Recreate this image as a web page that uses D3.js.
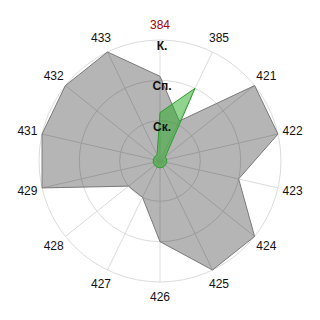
<!DOCTYPE html>
<html><head><meta charset="utf-8">
<script src="https://cdn.jsdelivr.net/npm/d3@7"></script>
<style>html,body{margin:0;padding:0;background:#fff;}svg{display:block;}</style>
</head><body>
<svg id="chart" width="320" height="320"></svg>
<script>
const axes = ["384","385","421","422","423","424","425","426","427","428","429","431","432","433"];
const grayValues = [2.1, 1.1, 3.0, 3.0, 2.0, 3.0, 3.0, 2.0, 1.0, 1.0, 3.0, 3.0, 3.0, 3.0];
const greenValues = [1.2, 2.0, 0.17, 0.17, 0.17, 0.17, 0.17, 0.17, 0.17, 0.17, 0.17, 0.17, 0.17, 0.17];
const ringLevels = [1, 2, 3];
const ringLabels = ["Ск.", "Сп.", "К."];

const cx = 160, cy = 161, R = 121;
const svg = d3.select("#chart");
const g = svg.append("g").attr("transform", `translate(${cx},${cy})`);
const r = d3.scaleLinear().domain([0, 3]).range([0, R]);
const angle = d3.scaleLinear().domain([0, axes.length]).range([0, 2 * Math.PI]);
const pt = (i, v) => [Math.sin(angle(i)) * r(v), -Math.cos(angle(i)) * r(v)];

// grid rings
g.selectAll("circle.ring").data(ringLevels).join("circle")
  .attr("r", d => r(d)).attr("fill", "none").attr("stroke", "#dcdcdc").attr("stroke-width", 1);
// spokes
g.selectAll("line.spoke").data(axes).join("line")
  .attr("x1", 0).attr("y1", 0)
  .attr("x2", (d, i) => pt(i, 3)[0]).attr("y2", (d, i) => pt(i, 3)[1])
  .attr("stroke", "#dcdcdc").attr("stroke-width", 1);

const line = d3.line().curve(d3.curveLinearClosed);
g.append("path")
  .attr("d", line(grayValues.map((v, i) => pt(i, v))))
  .attr("fill", "rgba(0,0,0,0.29)").attr("stroke", "#7a7a7a").attr("stroke-width", 1);
g.append("path")
  .attr("d", line(greenValues.map((v, i) => pt(i, v))))
  .attr("fill", "rgba(34,170,34,0.5)").attr("stroke", "#2e9e2e").attr("stroke-width", 1);

// axis labels
g.selectAll("text.axis").data(axes).join("text")
  .attr("x", (d, i) => Math.sin(angle(i)) * (R + 15))
  .attr("y", (d, i) => -Math.cos(angle(i)) * (R + 15))
  .attr("text-anchor", "middle").attr("dominant-baseline", "central")
  .attr("font-family", "Liberation Sans, Arial, sans-serif").attr("font-size", 12)
  .attr("fill", (d, i) => i === 0 ? "#a00000" : "#111")
  .text(d => d);

// ring labels
g.selectAll("text.ring").data(ringLevels).join("text")
  .attr("x", 2).attr("y", d => -r(d) + 10)
  .attr("text-anchor", "middle")
  .attr("font-family", "Liberation Sans, Arial, sans-serif").attr("font-size", 12)
  .attr("font-weight", "bold").attr("fill", "#111")
  .text((d, i) => ringLabels[i]);
</script>
</body></html>
